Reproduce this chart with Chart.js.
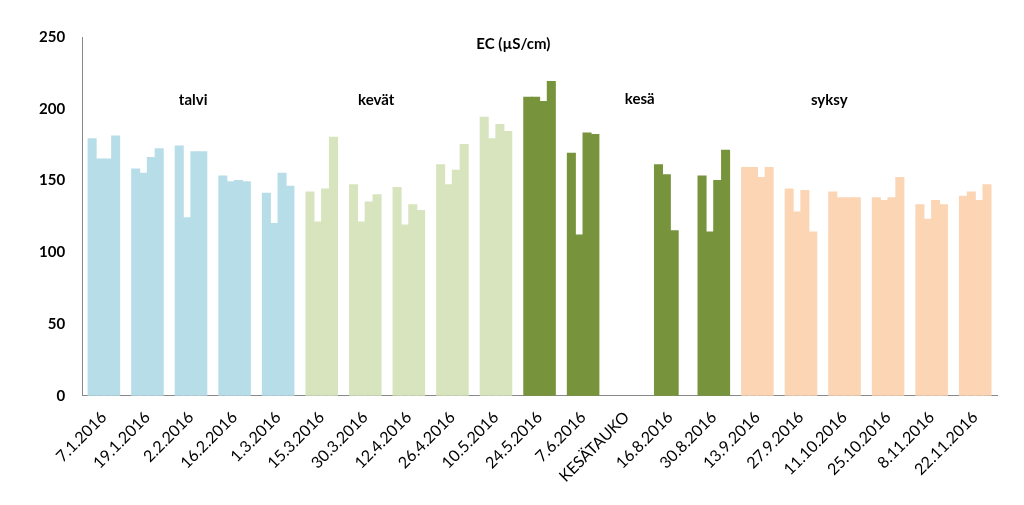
<!DOCTYPE html>
<html>
<head>
<meta charset="utf-8">
<script src="https://cdn.jsdelivr.net/npm/chart.js@4"></script>
<style>
  body { margin: 0; background: #fff; }
  #chart { display: block; }
</style>
</head>
<body>
<canvas id="chart" width="1024" height="505"></canvas>
<script>
// Sampling dates (KESÄTAUKO = summer break, no samples)
const dates = ["7.1.2016", "19.1.2016", "2.2.2016", "16.2.2016", "1.3.2016", "15.3.2016", "30.3.2016",
  "12.4.2016", "26.4.2016", "10.5.2016", "24.5.2016", "7.6.2016", "KESÄTAUKO", "16.8.2016", "30.8.2016",
  "13.9.2016", "27.9.2016", "11.10.2016", "25.10.2016", "8.11.2016", "22.11.2016"];

// Season of each date
const seasons = ["talvi", "talvi", "talvi", "talvi", "talvi", "kevät", "kevät", "kevät", "kevät", "kevät",
  "kesä", "kesä", "kesä", "kesä", "kesä", "syksy", "syksy", "syksy", "syksy", "syksy", "syksy"];

// EC values, four samples per date
const sample1 = [179, 158, 174, 153, 141, 142, 147, 145, 161, 194, 208, 169, null, 161, 153, 159, 144, 142, 138, 133, 139];
const sample2 = [165, 155, 124, 149, 120, 121, 121, 119, 147, 179, 208, 112, null, 154, 114, 159, 128, 138, 136, 123, 142];
const sample3 = [165, 166, 170, 150, 155, 144, 135, 133, 157, 189, 205, 183, null, 115, 150, 152, 143, 138, 138, 136, 136];
const sample4 = [181, 172, 170, 149, 146, 180, 140, 129, 175, 184, 219, 182, null, null, 171, 159, 114, 138, 152, 133, 147];

// Y axis ticks
const yTicks = [0, 50, 100, 150, 200, 250];

// Season labels and where they sit (category index, value)
const seasonNames = ["talvi", "kevät", "kesä", "syksy"];
const seasonLabelX = [2.05, 6.25, 12.3, 16.65];
const seasonLabelY = [206, 206, 207, 206];

const seasonColors = {
  "talvi": "#B7DEE8",
  "kevät": "#D7E4BD",
  "kesä": "#77933C",
  "syksy": "#FCD5B5"
};

const barColors = seasons.map(s => seasonColors[s]);
const fontFamily = "Lato, 'Open Sans', sans-serif";

// Draw the title and season names inside the plot area
const annotations = {
  id: 'annotations',
  afterDatasetsDraw(chart) {
    const ctx = chart.ctx;
    const x = chart.scales.x;
    const y = chart.scales.y;
    ctx.save();
    ctx.fillStyle = '#000';
    ctx.textAlign = 'center';
    ctx.textBaseline = 'middle';
    ctx.font = "bold 15px " + fontFamily;
    ctx.fillText("EC (µS/cm)", x.getPixelForValue(9.4), y.getPixelForValue(245));
    for (let i = 0; i < seasonNames.length; i++) {
      ctx.fillText(seasonNames[i], x.getPixelForValue(seasonLabelX[i]), y.getPixelForValue(seasonLabelY[i]));
    }
    ctx.restore();
  }
};

const makeDataset = (data) => ({
  data: data,
  backgroundColor: barColors,
  borderWidth: 0,
  inflateAmount: 0.6,
  categoryPercentage: 0.72,
  barPercentage: 1.0
});

new Chart(document.getElementById('chart'), {
  type: 'bar',
  data: {
    labels: dates,
    datasets: [makeDataset(sample1), makeDataset(sample2), makeDataset(sample3), makeDataset(sample4)]
  },
  options: {
    responsive: false,
    animation: false,
    layout: {
      padding: { left: 22, right: 27, top: 37, bottom: 7 }
    },
    plugins: {
      legend: { display: false },
      tooltip: { enabled: false }
    },
    scales: {
      x: {
        grid: { display: false, drawTicks: false },
        border: { display: true, color: '#888888', width: 1 },
        ticks: {
          color: '#000',
          minRotation: 45,
          maxRotation: 45,
          padding: 12,
          autoSkip: false,
          font: { family: fontFamily, size: 16 }
        }
      },
      y: {
        min: 0,
        max: 250,
        afterBuildTicks: (axis) => { axis.ticks = yTicks.map(v => ({ value: v })); },
        grid: { display: false, drawTicks: false },
        border: { display: true, color: '#888888', width: 1 },
        ticks: {
          color: '#000',
          padding: 17,
          font: { family: fontFamily, size: 15, weight: 'bold' }
        }
      }
    }
  },
  plugins: [annotations]
});
</script>
</body>
</html>
